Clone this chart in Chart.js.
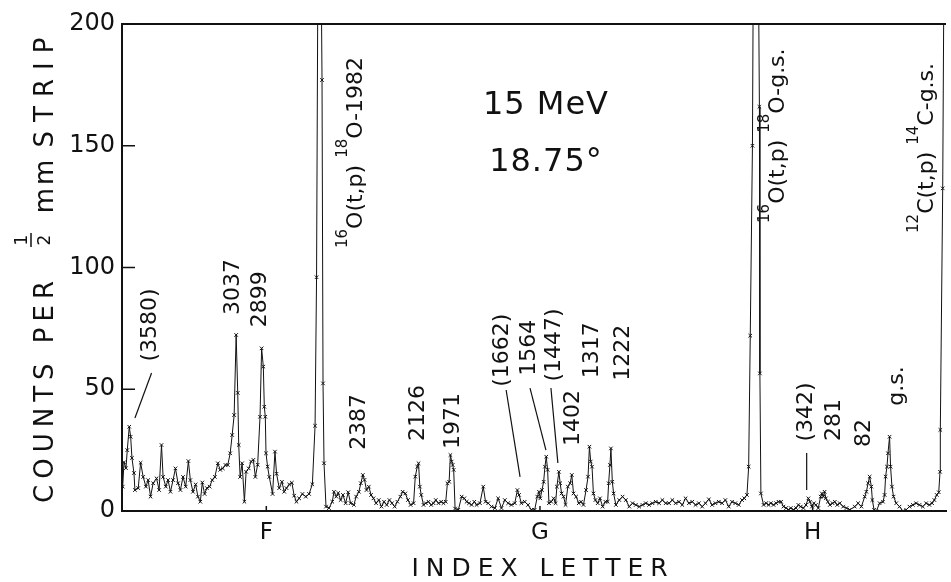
<!DOCTYPE html>
<html>
<head>
<meta charset="utf-8">
<script src="https://cdn.jsdelivr.net/npm/chart.js@4"></script>
<style>
html, body { margin: 0; padding: 0; background: #fff; }
</style>
</head>
<body>
<canvas id="myChart" width="951" height="582"></canvas>
<script>
const ctx = document.getElementById('myChart');

// position along the plate (strips) and counts per strip
const strip = [
    0.7, 2, 4, 5.3, 7.3, 8.7, 10, 12, 13, 16.3,
    18.7, 21.3, 24, 26.3, 28.7, 31.3, 34.7, 37.3, 39.7, 41.3,
    44, 46.3, 48.7, 51.3, 53.7, 56.3, 58.7, 61.3, 64, 66.7,
    68.7, 71.3, 74, 76.3, 78.7, 80.7, 83, 85.3, 88, 90.7,
    93.3, 96.3, 98.7, 101.3, 104, 106.3, 108.7, 110.7, 112.7, 114.7,
    116.3, 117.3, 118.7, 120.7, 123, 124.7, 127.3, 129.7, 132, 134,
    136.3, 138.7, 140.3, 142, 143, 144, 144.7, 146.3, 148, 151.3,
    153.7, 155.3, 158, 160.7, 163, 165.3, 168, 170.7, 173, 175.3,
    178, 181.3, 184.7, 188, 191.3, 194, 195.5, 198, 201, 202,
    203, 205, 208, 211.3, 213, 215.3, 217.3, 219.7, 222, 224.7,
    227.3, 229.7, 233, 235.3, 238, 240, 242, 243.7, 245.7, 248,
    250.3, 252.7, 255.3, 258, 260.7, 263.3, 266, 268.7, 271.3, 274,
    276.7, 279.7, 282, 284.7, 287.3, 290, 293, 294.7, 296.7, 298,
    299.3, 300.7, 303, 305.3, 308, 310.7, 313, 315.3, 318, 320.7,
    323, 325.3, 327, 328.7, 330, 331.3, 332.3, 333.3, 334.7, 338,
    341.3, 344, 346.3, 348.7, 351.3, 354, 356.3, 359.7, 363, 365.3,
    368, 371.3, 374.7, 378, 381.3, 384.7, 388, 391.3, 394.7, 397.3,
    399, 401.3, 404.7, 408, 411.3, 414.7, 417.3, 419, 420.3, 422,
    423.7, 425, 426.3, 427.7, 429, 431.3, 433.7, 435.7, 437, 439,
    440.3, 441.7, 443.7, 445.7, 448, 450.3, 452, 453.7, 456.3, 459,
    461.3, 463.7, 466.3, 468.3, 469.7, 471, 472.3, 473.7, 475.7, 478,
    480.3, 483, 485.7, 488, 489, 490.3, 491.3, 492.7, 494, 496.3,
    499.7, 503, 506.3, 509.7, 513, 516.3, 519.7, 523, 526.3, 529.7,
    533, 536.3, 539.7, 543, 546.3, 549.7, 553, 556.3, 559.7, 563,
    566.3, 569.7, 573, 576.3, 579.7, 583, 586.3, 589.7, 593, 596.3,
    599.7, 603, 606.3, 609.7, 613, 616.3, 619.7, 623, 625.3, 628,
    629.7, 631.3, 633.5, 636.5, 640.5, 641, 642, 644.7, 647.3, 649.7,
    652, 654.7, 657.3, 659.7, 662.3, 664.7, 667.3, 669.7, 672, 674.7,
    677.3, 679.7, 682, 684.7, 687.3, 689.7, 691.3, 693.3, 695.3, 697.3,
    699.7, 702, 703.3, 704.7, 706, 707.3, 709.3, 711.3, 714, 716.3,
    718.7, 721.3, 724.7, 728, 731.3, 736.3, 739.7, 743, 746.3, 748,
    749.7, 751.3, 753, 754, 755.7, 758, 761.3, 764.7, 766.3, 767.3,
    768.7, 769.7, 771.3, 772.3, 773.7, 775.3, 778, 781.3, 784.7, 788,
    791.3, 794.7, 798, 801.3, 804.7, 808, 811.3, 814, 816.3, 818.7,
    820.7, 822, 822.3, 824.7, 827
];

const counts = [
    10, 20, 17.6, 25, 34.6, 30.5, 21.8, 15.6, 8.6, 9.4,
    19.8, 14, 10, 12.7, 5.9, 11.4, 13.4, 8.6, 27.1, 14,
    10, 12.7, 7.9, 12.7, 17.5, 11.4, 8.6, 14, 10, 20.5,
    12.7, 7.9, 10.9, 5.9, 3.8, 11.7, 7, 9.4, 10, 12.7,
    14, 19.6, 16.9, 17.5, 18.9, 18.9, 23.7, 31.2, 39.4, 72.3,
    48.5, 27.1, 14, 19.6, 3.8, 16.1, 17.5, 20.3, 21, 14,
    19, 38.7, 66.8, 59.3, 42.8, 38.7, 23.7, 18.2, 14, 7,
    24.4, 15.3, 9.4, 12, 7.9, 9.4, 10.9, 11.6, 6.3, 3.8,
    5.2, 7, 5.9, 7, 11, 35, 96, 330, 177, 52.4,
    19.6, 1.8, 1.2, 3.8, 7.9, 5.9, 7.4, 4.5, 6.6, 3.2,
    7.7, 3.2, 2.5, 5.9, 7.9, 11.4, 14.8, 12.8, 8.6, 10,
    6.6, 5.2, 3.2, 4.5, 1.8, 3.8, 2.5, 4.5, 3.2, 1.8,
    3.8, 5.9, 7.9, 7.2, 4.5, 2.5, 3.2, 14.1, 18.2, 19.6,
    10, 6.6, 2.5, 3.2, 3.8, 2.5, 3.2, 4.5, 3.2, 3.8,
    3.2, 3.8, 11.4, 12, 23, 20.3, 18.9, 16.9, 1, 0.5,
    5.9, 5.2, 3.8, 3.2, 2.5, 3.8, 2.5, 3.2, 10, 3.8,
    3.2, 1.8, 1.2, 5.2, 1.2, 4.5, 3.2, 2.5, 3.2, 8.6,
    6.6, 3.2, 3.8, 2.5, 0.5, 0.5, 5.9, 7.9, 5.2, 8.6,
    12, 18.2, 22.3, 16.9, 3.2, 3.8, 5.2, 3.2, 10, 16.1,
    11.4, 7.2, 5.9, 2.5, 10, 11.4, 14.8, 7.2, 5.9, 3.2,
    3.8, 2.5, 8.6, 14.1, 26.4, 20.3, 18.2, 7.2, 4.5, 3.2,
    5.2, 1.8, 3.8, 3.8, 11.4, 18.9, 25.7, 12, 7.2, 2.5,
    4.5, 5.9, 4.5, 1.8, 3.2, 2.5, 1.8, 2.5, 3.2, 2.5,
    3.2, 3.8, 3.2, 4.5, 3.2, 3.2, 4.5, 3.2, 3.8, 2.5,
    5.2, 3.2, 3.8, 2.5, 3.2, 1.8, 3.2, 4.8, 2.5, 3.2,
    3.8, 3.2, 4.5, 1.8, 3.8, 3.2, 2.5, 4.5, 5.2, 6.6,
    18.2, 72, 150, 400, 166, 56.5, 7.2, 2.5, 3.2, 2.5,
    3.2, 2.5, 3.2, 3.8, 3.8, 1.8, 1.2, 0.5, 1.2, 0.5,
    1.2, 2.5, 1.8, 1.2, 2.5, 5.2, 3.8, 1.8, 3.2, 2.5,
    1.2, 5.9, 7.2, 5.9, 7.9, 5.2, 3.8, 2.5, 3.2, 3.8,
    2.5, 3.2, 1.8, 1.2, 0.5, 1.8, 3.2, 1.8, 5.9, 7.9,
    11.4, 14.1, 10, 4.5, 0.5, 0, 3.2, 3.8, 6.6, 14.1,
    18.2, 23.7, 30.5, 18.2, 10, 5.9, 3.2, 1.8, 0, 0.5,
    1.8, 2.5, 3.2, 2.5, 1.8, 3.2, 2.5, 3.2, 4.5, 6.6,
    7.7, 16.1, 33.3, 132.5, 300
];

const letterTicks = [145, 420, 694];
const letterNames = ['F', 'G', 'H'];
const yTicks = [0, 50, 100, 150, 200];

// level labels (energies in keV) and where they sit, in strip / count units
const levelNames = ['(3580)', '3037', '2899', '2387', '2126', '1971', '(1662)', '1564',
    '(1447)', '1402', '1317', '1222', '(342)', '281', '82', 'g.s.'];
const levelAt = [[28, 76.4], [112, 92], [139, 87], [238, 36.6], [298, 40.2], [333, 37],
    [382, 66], [409, 67], [434, 68.2], [453, 38.2], [473, 66], [504, 65],
    [688, 40.7], [716, 37.4], [746, 32], [779, 51.3]];
const leaders = [
    [[29.7, 56.7], [13, 38.2]],
    [[386, 49.7], [400, 14]],
    [[410, 50.5], [426, 25]],
    [[431, 50.5], [438, 19.7]],
    [[688, 23.8], [688, 8.6]]
];
const reactions = [
    { parts: [['16', 1], ['O(t,p) ', 0], ['18', 1], ['O-1982', 0]], at: [241, 108] },
    { parts: [['16', 1], ['O(t,p) ', 0], ['18', 1], ['O-g.s.', 0]], at: [665, 118.3] },
    { parts: [['12', 1], ['C(t,p) ', 0], ['14', 1], ['C-g.s.', 0]], at: [815, 114.2] }
];

const ink = '#111';
const FONT = '"DejaVu Sans", sans-serif';

function vtext(c, text, x, y, size, spacing) {
    c.save();
    c.translate(x, y);
    c.rotate(-Math.PI / 2);
    c.font = size + 'px ' + FONT;
    c.letterSpacing = (spacing || 0) + 'px';
    c.textAlign = 'center';
    c.textBaseline = 'middle';
    c.fillText(text, 0, 0);
    c.restore();
}

const decor = {
    id: 'decor',
    afterDraw(chart) {
        const c = chart.ctx;
        const a = chart.chartArea;
        const xs = chart.scales.x;
        const ys = chart.scales.y;
        c.save();
        c.strokeStyle = ink;
        c.fillStyle = ink;

        // top frame
        c.lineWidth = 2;
        c.beginPath();
        c.moveTo(a.left - 1, a.top);
        c.lineTo(a.right, a.top);
        c.stroke();

        // inward tick marks
        c.lineWidth = 1.5;
        yTicks.forEach(v => {
            const p = ys.getPixelForValue(v);
            c.beginPath();
            c.moveTo(a.left, p);
            c.lineTo(a.left + 13, p);
            c.stroke();
        });
        letterTicks.forEach(v => {
            const p = xs.getPixelForValue(v);
            c.beginPath();
            c.moveTo(p, a.bottom);
            c.lineTo(p, a.bottom - 5);
            c.stroke();
        });

        // y axis title with stacked fraction
        const bx = a.left - 69;
        c.save();
        c.textBaseline = 'alphabetic';
        c.textAlign = 'center';
        const piece = (t, cy, size, sp, base) => {
            c.save();
            c.translate(base, cy);
            c.rotate(-Math.PI / 2);
            c.font = size + 'px ' + FONT;
            c.letterSpacing = sp + 'px';
            c.fillText(t, 0, 0);
            c.restore();
        };
        piece('COUNTS PER', 389, 26, 6, bx);
        piece('1', 240, 17, 0, bx - 26);
        piece('2', 240, 17, 0, bx - 3);
        c.lineWidth = 1.5;
        c.beginPath();
        c.moveTo(bx - 22, 233);
        c.lineTo(bx - 22, 247);
        c.stroke();
        piece('mm', 185, 26, 3, bx);
        piece('STRIP', 88, 26, 9, bx);
        c.restore();

        // x axis title
        c.save();
        c.font = '25px ' + FONT;
        c.letterSpacing = '7px';
        c.textAlign = 'center';
        c.textBaseline = 'middle';
        c.fillText('INDEX LETTER', (xs.getPixelForValue(letterTicks[1])) + 3, 569);
        c.restore();

        // energy and angle
        c.save();
        c.font = '32px ' + FONT;
        c.letterSpacing = '1px';
        c.textAlign = 'center';
        c.textBaseline = 'middle';
        c.fillText('15 MeV', xs.getPixelForValue(426), ys.getPixelForValue(166.3));
        c.fillText('18.75°', xs.getPixelForValue(426), ys.getPixelForValue(143));
        c.restore();

        // level labels and leader lines
        levelNames.forEach((t, i) => {
            vtext(c, t, xs.getPixelForValue(levelAt[i][0]), ys.getPixelForValue(levelAt[i][1]), 22, 0);
        });
        c.lineWidth = 1.2;
        leaders.forEach(l => {
            c.beginPath();
            c.moveTo(xs.getPixelForValue(l[0][0]), ys.getPixelForValue(l[0][1]));
            c.lineTo(xs.getPixelForValue(l[1][0]), ys.getPixelForValue(l[1][1]));
            c.stroke();
        });

        // reaction labels with superscript mass numbers
        reactions.forEach(r => {
            c.save();
            c.translate(xs.getPixelForValue(r.at[0]), ys.getPixelForValue(r.at[1]));
            c.rotate(-Math.PI / 2);
            c.textAlign = 'left';
            c.textBaseline = 'alphabetic';
            let pos = 0;
            r.parts.forEach(([t, sup]) => {
                c.font = (sup ? 15 : 22) + 'px ' + FONT;
                c.fillText(t, pos, sup ? -15 : 0);
                pos += c.measureText(t).width;
            });
            c.restore();
        });

        c.restore();
    }
};

new Chart(ctx, {
    type: 'line',
    data: {
        datasets: [{
            data: strip.map((x, i) => ({ x: x, y: counts[i] })),
            borderColor: ink,
            borderWidth: 1,
            tension: 0,
            pointStyle: 'crossRot',
            pointRadius: 2.5,
            pointBorderWidth: 1,
            pointBorderColor: ink,
            pointBackgroundColor: ink
        }]
    },
    options: {
        responsive: false,
        animation: false,
        events: [],
        layout: { padding: { top: 24, right: 1, left: 0, bottom: 0 } },
        plugins: { legend: { display: false }, tooltip: { enabled: false } },
        scales: {
            x: {
                type: 'linear',
                min: 0,
                max: 828,
                grid: { display: false, drawTicks: false },
                border: { display: true, color: ink, width: 2 },
                afterBuildTicks: s => { s.ticks = letterTicks.map(v => ({ value: v })); },
                afterFit: s => { s.height = 71; },
                ticks: {
                    color: ink,
                    font: { family: FONT, size: 23 },
                    padding: 8,
                    maxRotation: 0,
                    autoSkip: false,
                    callback: v => letterNames[letterTicks.indexOf(v)]
                }
            },
            y: {
                min: 0,
                max: 200,
                grid: { display: false, drawTicks: false },
                border: { display: true, color: ink, width: 2 },
                afterBuildTicks: s => { s.ticks = yTicks.map(v => ({ value: v })); },
                afterFit: s => { s.width = 122; },
                ticks: {
                    color: ink,
                    font: { family: FONT, size: 24 },
                    padding: 7
                }
            }
        }
    },
    plugins: [decor]
});
</script>
</body>
</html>
